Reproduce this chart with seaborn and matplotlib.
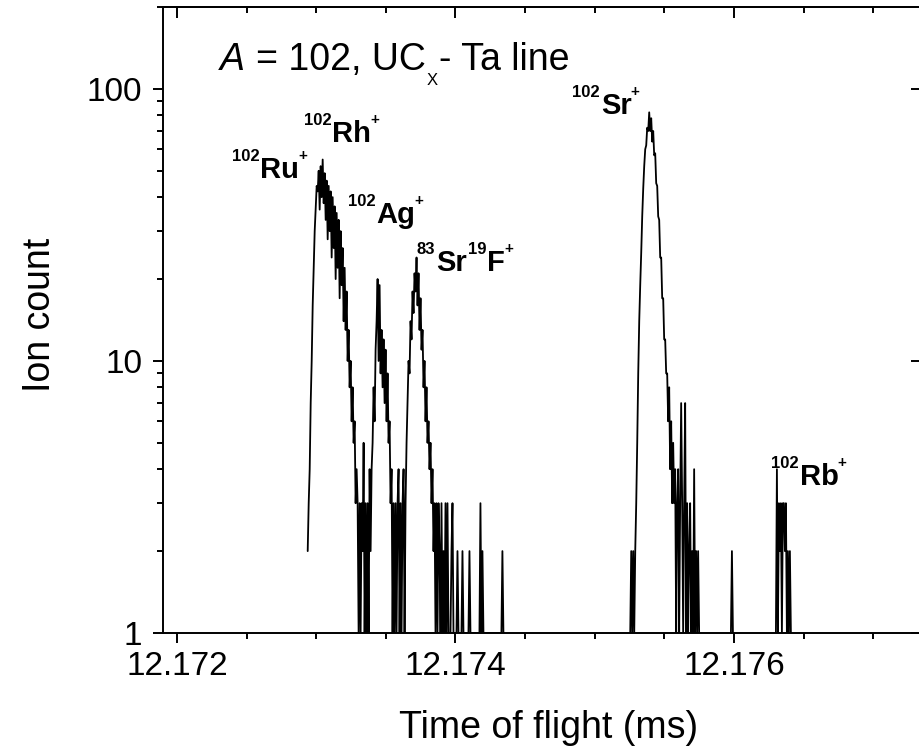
import numpy as np
import pandas as pd
import matplotlib
matplotlib.use("Agg")
import matplotlib.pyplot as plt
import matplotlib.transforms as mtransforms
import seaborn as sns
from matplotlib import ticker

# ---------------- data (ion counts per time-of-flight bin) ----------------
BIN_MS = 7.17e-6  # width of one time-of-flight bin (ms)

# 102Ru/102Rh, 102Ag and 83Sr19F group
grp1_start = 12.172939
grp1_counts = [
    2, 3, 4, 7, 10, 16, 22, 30, 36, 44,
    42, 50, 36, 52, 40, 55, 38, 49, 33, 46,
    28, 44, 30, 42, 24, 40, 26, 37, 20, 35,
    22, 33, 17, 30, 19, 26, 14, 22, 13, 18,
    10, 13, 8, 10, 6, 8, 5, 6, 3, 4,
    3, 1, 3, 1, 3, 2, 5, 1, 3, 1,
    3, 1, 4, 2, 4, 5, 8, 6, 11, 14,
    20, 10, 19, 9, 13, 8, 12, 7, 11, 6,
    9, 5, 6, 3, 4, 1, 3, 1, 3, 1,
    3, 4, 1, 3, 1, 3, 4, 1, 3, 5,
    7, 10, 9, 14, 12, 18, 15, 21, 18, 24,
    16, 21, 13, 17, 11, 13, 8, 10, 6, 8,
    5, 6, 4, 5, 3, 4, 2, 3, 1, 3,
    1, 3, 2, 1, 3, 1, 2, 1, 3, 1,
    3, 1, 1, 1, 2, 3, 1, 1, 1, 1,
    2, 1, 1, 1, 1, 2, 1, 1, 1, 1,
    1, 1, 2, 1, 1, 1, 1, 1, 1, 1,
    1, 1, 1, 3, 1, 2, 1, 1, 1, 1,
    1, 1, 1, 1, 1, 1, 1, 1, 1, 1,
    1, 1, 1, 1, 1, 2, 1, 1,
]

# 102Sr group
grp2_start = 12.175255
grp2_counts = [
    1, 2, 1, 2, 1, 2, 3, 5, 9, 14,
    19, 25, 34, 43, 52, 60, 62, 72, 70, 82,
    70, 78, 64, 70, 57, 58, 45, 44, 34, 33,
    24, 24, 17, 17, 12, 12, 9, 9, 6, 8,
    4, 6, 3, 5, 3, 4, 1, 3, 4, 1,
    3, 7, 3, 1, 3, 7, 1, 3, 1, 2,
    3, 1, 2, 1, 4, 1, 2, 1, 2, 1,
]

# isolated count
grp3_start = 12.175978
grp3_counts = [1, 2, 1]

# 102Rb group
grp4_start = 12.176301
grp4_counts = [1, 4, 1, 3, 2, 3, 1, 3, 3, 2, 3, 1, 2, 1, 2, 1]

group_starts = [grp1_start, grp2_start, grp3_start, grp4_start]
group_counts = [grp1_counts, grp2_counts, grp3_counts, grp4_counts]

# peak labels: (superscript, element, superscript, element, superscript ...)
label_parts = [
    ["102", "Ru", "+"],
    ["102", "Rh", "+"],
    ["102", "Ag", "+"],
    ["83", "Sr", "19", "F", "+"],
    ["102", "Sr", "+"],
    ["102", "Rb", "+"],
]
label_x = [12.172394, 12.172910, 12.173226, 12.173720, 12.174839, 12.176265]
label_y = [47.1, 63.9, 32.2, 21.5, 81.0, 3.49]

frames = []
for gi, (t0, cts) in enumerate(zip(group_starts, group_counts)):
    frames.append(pd.DataFrame({
        "tof": t0 + BIN_MS * np.arange(len(cts)),
        "counts": cts,
        "group": gi,
    }))
df = pd.concat(frames, ignore_index=True)

# ---------------- style ----------------
sns.set_theme(style="ticks")
plt.rcParams["font.family"] = ["Liberation Sans", "DejaVu Sans"]
plt.rcParams["axes.linewidth"] = 1.4

fig = plt.figure(figsize=(9.2, 7.53), dpi=100)
ax = fig.add_axes([163 / 920, (753 - 633) / 753, (922 - 163) / 920, (633 - 7) / 753])

sns.lineplot(data=df, x="tof", y="counts", units="group", estimator=None,
             color="black", linewidth=1.3, ax=ax, legend=False)

ax.set_yscale("log")
ax.set_ylim(1, 200)
ax.set_xlim(12.1719, 12.17735)

for sp in ax.spines.values():
    sp.set_color("black")
    sp.set_linewidth(1.4)
    sp.set_visible(True)

ax.xaxis.set_major_locator(ticker.MultipleLocator(0.002))
ax.xaxis.set_minor_locator(ticker.MultipleLocator(0.0005))
ax.xaxis.set_major_formatter(ticker.FormatStrFormatter("%.3f"))
ax.yaxis.set_major_locator(ticker.LogLocator(base=10, numticks=10))
ax.yaxis.set_minor_locator(ticker.LogLocator(base=10, subs=np.arange(2, 10), numticks=20))
ax.yaxis.set_major_formatter(ticker.FuncFormatter(lambda v, p: f"{v:g}"))
ax.yaxis.set_minor_formatter(ticker.NullFormatter())

ax.tick_params(which="both", direction="out", top=False, right=False,
               width=1.4, color="black", labelcolor="black")
ax.tick_params(which="major", length=7, labelsize=24)
ax.tick_params(which="minor", length=4)
ax.tick_params(axis="x", which="major", pad=6)
ax.tick_params(axis="y", which="major", pad=8)

secx = ax.secondary_xaxis("top")
secx.xaxis.set_major_locator(ticker.MultipleLocator(0.002))
secx.xaxis.set_minor_locator(ticker.MultipleLocator(0.0005))
secx.tick_params(which="both", direction="in", labeltop=False, width=1.4, color="black")
secx.tick_params(which="major", length=8)
secx.tick_params(which="minor", length=4.5)
secx.spines["top"].set_linewidth(1.4)

secy = ax.secondary_yaxis("right")
secy.yaxis.set_major_locator(ticker.LogLocator(base=10, numticks=10))
secy.yaxis.set_minor_locator(ticker.LogLocator(base=10, subs=np.arange(2, 10), numticks=20))
secy.tick_params(which="both", direction="in", labelright=False, width=1.4, color="black")
secy.tick_params(which="major", length=8)
secy.tick_params(which="minor", length=2)

ax.set_xlabel("Time of flight (ms)", fontsize=27, color="black")
ax.set_ylabel("Ion count", fontsize=27, color="black")
ax.xaxis.set_label_coords(0.508, -0.123)
ax.yaxis.set_label_coords(-0.138, 0.508)

renderer = fig.canvas.get_renderer()


def rich_text(x, y, pieces, base_transform):
    """pieces: list of (text, fontsize, weight, style, dy_px, gap_px)"""
    dx = 0.0
    for s, size, weight, style, dy, gap in pieces:
        dx += gap
        tr = mtransforms.offset_copy(base_transform, fig=fig, x=dx, y=dy, units="dots")
        t = ax.text(x, y, s, transform=tr, fontsize=size, fontweight=weight,
                    fontstyle=style, ha="left", va="baseline", color="black")
        dx += t.get_window_extent(renderer).width


# title
rich_text(0.075, 0.899, [
    ("A", 27, "normal", "italic", 0, 0),
    ("= 102, UC", 27, "normal", "normal", 0, 11),
    ("X", 12, "normal", "normal", -15, 1),
    ("- Ta line", 27, "normal", "normal", 0, 1),
], ax.transAxes)

# peak labels
SUP, MAIN = 12, 21
for parts, xx, yy in zip(label_parts, label_x, label_y):
    pieces = []
    for i, p in enumerate(parts):
        if i % 2 == 0:
            if p == "+":
                pieces.append((p, 11, "bold", "normal", 18, -1))
            else:
                pieces.append((p, SUP, "bold", "normal", 17, 1 if i else 0))
        else:
            pieces.append((p, MAIN, "bold", "normal", 0, 1))
    rich_text(xx, yy, pieces, ax.transData)

fig.savefig("out.png", dpi=100, facecolor="white")
